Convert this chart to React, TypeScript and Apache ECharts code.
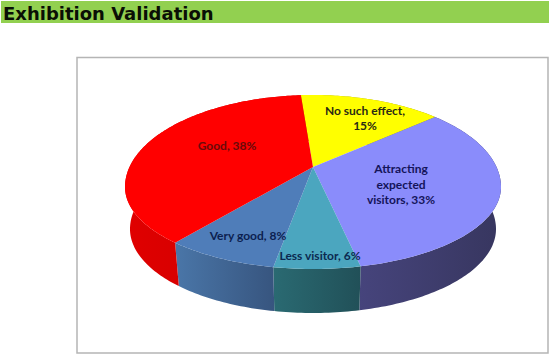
import React, { useEffect, useRef } from "react";
import * as echarts from "echarts";

const title = "Exhibition Validation";
const categories = ["No such effect", "Attracting\nexpected\nvisitors", "Less visitor", "Very good", "Good"];
const values = [15, 33, 6, 8, 38];
const labelLines = ["No such effect,\n15%", "Attracting\nexpected\nvisitors, 33%", "Less visitor, 6%", "Very good, 8%", "Good, 38%"];
const topColors = ["#ffff00", "#8a8cfb", "#4ba6bf", "#4f7db9", "#ff0000"];
const sideFrom = ["#b0b000", "#46447c", "#2a6a72", "#4a76a8", "#e00000"];
const sideTo = ["#8a8a00", "#37365f", "#215058", "#37557f", "#c80000"];
const labelColors = ["#2a2a14", "#14145a", "#0c2a50", "#0c1f50", "#6a0a0a"];

const START_DEG = -4.6;
const TOP = { cx: 313, cy: 187, rx: 188, up: 92, down: 82 };
const BOTTOM = { cx: 313, cy: 229, rx: 183, up: 88, down: 84 };
const HUB_SHIFT = 0.217;
const LABEL_AT: [number, number][] = [[365, 118], [401, 184], [320, 255], [248, 235], [227, 145]];

const total = values.reduce((a, b) => a + b, 0);
const startOf = (i: number) =>
  START_DEG + (values.slice(0, i).reduce((a, b) => a + b, 0) / total) * 360;

function project(deg: number, e: typeof TOP): number[] {
  const t = (deg * Math.PI) / 180;
  const X = Math.sin(t);
  const Y = Math.cos(t);
  const d = HUB_SHIFT;
  const w = 1 + d * Y;
  const v = (Y + d) / w;
  return [e.cx + (e.rx * (X * Math.sqrt(1 - d * d))) / w, e.cy - (v >= 0 ? e.up : e.down) * v];
}

function arc(a0: number, a1: number, e: typeof TOP): number[][] {
  const pts: number[][] = [];
  const n = Math.max(2, Math.ceil(a1 - a0));
  for (let k = 0; k <= n; k++) pts.push(project(a0 + ((a1 - a0) * k) / n, e));
  return pts;
}

export default function App() {
  const ref = useRef<HTMLDivElement>(null);
  useEffect(() => {
    const chart = echarts.init(ref.current!, undefined, { renderer: "svg" });
    const rows = categories.map((name, i) => ({ name, value: values[i] }));
    chart.setOption({
      animation: false,
      backgroundColor: "#ffffff",
      graphic: [
        { type: "rect", z: 0, shape: { x: 1, y: 1, width: 548, height: 22 }, style: { fill: "#92d050" } },
        {
          type: "text", z: 1, x: 3, y: 13,
          style: {
            text: title, fill: "#0a0f05", font: "bold 18px 'DejaVu Sans'",
            textVerticalAlign: "middle",
          },
        },
        {
          type: "rect", z: 0,
          shape: { x: 77, y: 57.5, width: 471, height: 295.5 },
          style: { fill: "#ffffff", stroke: "#b5b5b5", lineWidth: 1.5 },
        },
      ],
      series: [
        {
          type: "custom", coordinateSystem: "none", z: 2, silent: true, data: rows,
          renderItem: (p: any, api: any) => {
            const i = p.dataIndex;
            const a0 = startOf(i);
            const a1 = a0 + (Number(api.value(1)) / total) * 360;
            const pts = [...arc(a0, a1, TOP), ...arc(a0, a1, BOTTOM).reverse()];
            return {
              type: "polygon",
              shape: { points: pts },
              style: {
                fill: new echarts.graphic.LinearGradient(0, 0, 1, 0, [
                  { offset: 0, color: sideFrom[i] },
                  { offset: 1, color: sideTo[i] },
                ]),
              },
            };
          },
          encode: { value: 1 },
          dimensions: ["name", "value"],
        },
        {
          type: "custom", coordinateSystem: "none", z: 3, silent: true, data: rows,
          renderItem: (p: any, api: any) => {
            const i = p.dataIndex;
            const a0 = startOf(i);
            const a1 = a0 + (Number(api.value(1)) / total) * 360;
            const hub = [TOP.cx, TOP.cy - TOP.up * HUB_SHIFT];
            return {
              type: "polygon",
              shape: { points: [hub, ...arc(a0, a1, TOP)] },
              style: { fill: topColors[i] },
            };
          },
          encode: { value: 1 },
          dimensions: ["name", "value"],
        },
        {
          type: "custom", coordinateSystem: "none", z: 4, silent: true, data: rows,
          renderItem: (p: any) => {
            const i = p.dataIndex;
            return {
              type: "text",
              x: LABEL_AT[i][0],
              y: LABEL_AT[i][1],
              style: {
                text: labelLines[i],
                fill: labelColors[i],
                font: "bold 12px Lato",
                lineHeight: 15.5,
                align: "center",
                verticalAlign: "middle",
              },
            };
          },
          encode: { value: 1 },
          dimensions: ["name", "value"],
        },
      ],
    });
    return () => chart.dispose();
  }, []);
  return <div ref={ref} style={{ position: "fixed", left: 0, top: 0, width: 549, height: 358 }} />;
}
